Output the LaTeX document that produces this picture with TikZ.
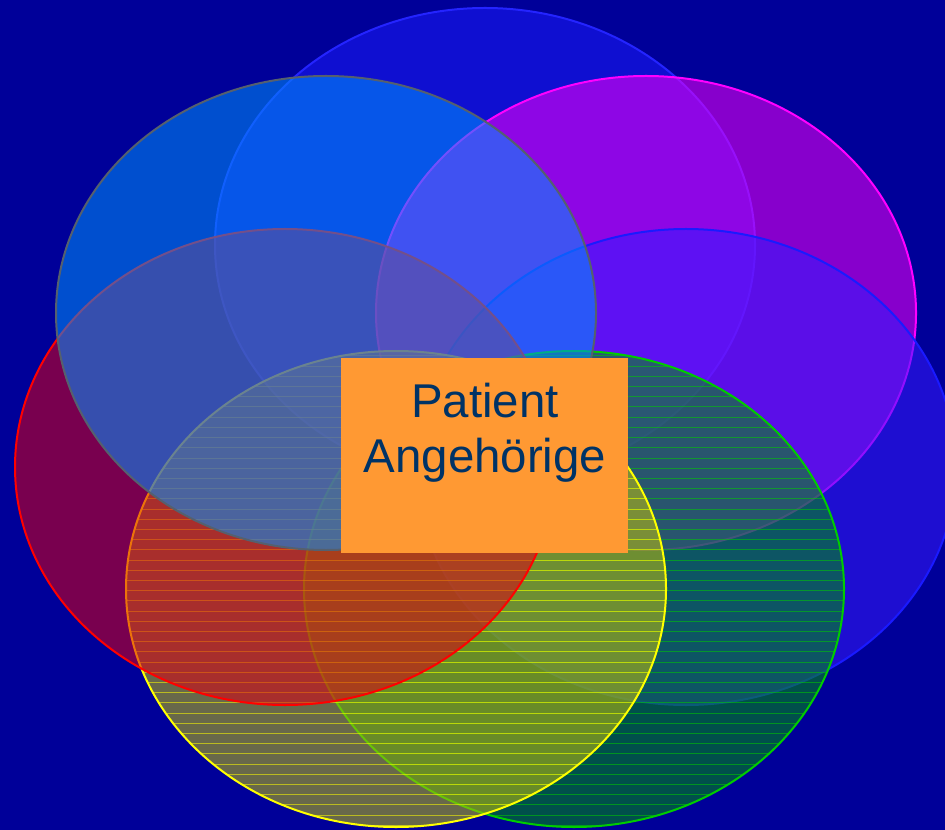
\documentclass[tikz,border=0pt]{standalone}
\usepackage{fontspec}
\setsansfont{Liberation Sans}
\definecolor{bgblue}{HTML}{000099}
\definecolor{ltop}{HTML}{1D1DFF}
\definecolor{ltopline}{HTML}{2424FF}
\definecolor{lul}{HTML}{0091FD}
\definecolor{lulline}{HTML}{55606E}
\definecolor{lur}{HTML}{F700F6}
\definecolor{lurline}{HTML}{FF00FF}
\definecolor{lright}{HTML}{371BFF}
\definecolor{lrightline}{HTML}{1A1AFF}
\definecolor{lred}{HTML}{DE0014}
\definecolor{lredline}{HTML}{FF0000}
\definecolor{lyel}{HTML}{BEBE0A}
\definecolor{lyelline}{HTML}{FFFF00}
\definecolor{lgreen}{HTML}{00910B}
\definecolor{lgreenline}{HTML}{00CC00}
\definecolor{lbox}{HTML}{FF9933}
\definecolor{ltext}{HTML}{003366}
\tikzset{
  % halbtransparente Ellipse
  bubble/.style={line width=0.04cm, fill opacity=0.55},
  b top/.style={bubble, draw=ltopline, fill=ltop},
  b ul/.style={bubble, draw=lulline, fill=lul},
  b ur/.style={bubble, draw=lurline, fill=lur},
  b right/.style={bubble, draw=lrightline, fill=lright},
  b red/.style={bubble, draw=lredline, fill=lred},
  b yel/.style={bubble, draw=lyelline, fill=lyel},
  b green/.style={bubble, draw=lgreenline, fill=lgreen},
  % Schraffur (waagerechte Linien)
  hatch/.style={line width=0.02cm, draw opacity=0.55},
  % Kasten in der Mitte
  pbox/.style={rectangle, fill=lbox, minimum width=5.74cm, minimum height=3.9cm,
    inner sep=0pt},
  ptext/.style={font=\sffamily\fontsize{27}{31}\selectfont, text=ltext,
    align=center, inner sep=0pt},
}
\newcommand{\schraffur}[2]{%
  \begin{scope}
    \clip #1 ellipse [x radius=270, y radius=238];
    \foreach \y in {356,366.2,...,830}
      \draw[hatch, #2] (100,\y) -- (880,\y);
  \end{scope}
}

\begin{document}
\begin{tikzpicture}[x=0.02cm, y=-0.02cm]
  \useasboundingbox (0,0) rectangle (945,830);
  \clip (0,0) rectangle (945,830);
  \fill[bgblue] (0,0) rectangle (945,830);
  \draw[b top] (485,245) ellipse [x radius=270, y radius=237];
  \draw[b ur] (646,313) ellipse [x radius=270, y radius=237];
  \draw[b right] (686,467) ellipse [x radius=270, y radius=238];
  \draw[b green] (574,589) ellipse [x radius=270, y radius=238];
  \schraffur{(574,589)}{lgreenline}
  \draw[b yel] (396,589) ellipse [x radius=270, y radius=238];
  \schraffur{(396,589)}{lyelline}
  \draw[b red] (285,467) ellipse [x radius=270, y radius=238];
  \draw[b ul] (326,313) ellipse [x radius=270, y radius=237];
  \node[pbox] (patient) at (484.5,455.5) {};
  \node[ptext, anchor=north] (label) at (485,383) {Patient\\Angehörige};
\end{tikzpicture}
\end{document}
